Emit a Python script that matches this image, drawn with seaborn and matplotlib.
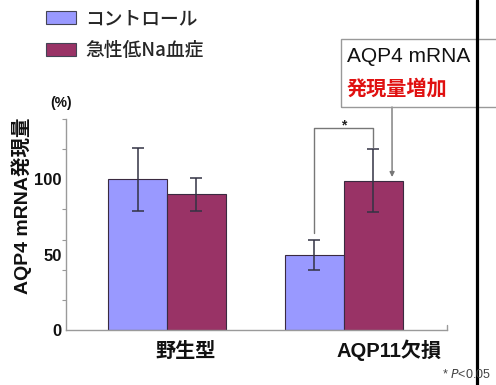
import matplotlib
matplotlib.use("Agg")
import matplotlib.pyplot as plt
from matplotlib.patches import Patch, Rectangle
from matplotlib.lines import Line2D
import seaborn as sns
import pandas as pd

# ---- data ----
genotypes = ["野生型", "AQP11欠損"]
conditions = ["コントロール", "急性低Na血症"]
control_mean = [100, 50]
control_err = [21, 10]
hypona_mean = [90, 99]
hypona_err = [11, 21]
colors = ["#9999FF", "#993366"]
yticklabels = [0, 50, 100]

df = pd.DataFrame({
    "genotype": genotypes * 2,
    "condition": [conditions[0]] * 2 + [conditions[1]] * 2,
    "value": control_mean + hypona_mean,
})
errs = {conditions[0]: control_err, conditions[1]: hypona_err}

sns.set_theme(style="white")
plt.rcParams["font.family"] = ["Liberation Sans", "Noto Sans CJK JP", "DejaVu Sans"]
JP = ["Noto Sans CJK JP", "Liberation Sans", "DejaVu Sans"]
MIX = ["Liberation Sans", "Noto Sans CJK JP", "DejaVu Sans"]

W, H = 496, 385
fig = plt.figure(figsize=(W / 100, H / 100), dpi=100)


def fx(px):
    return px / W


def fy(py):
    return 1 - py / H


ax = fig.add_axes([fx(66), fy(330), fx(447) - fx(66), fy(119) - fy(330)])

sns.barplot(data=df, x="genotype", y="value", hue="condition",
            order=genotypes, hue_order=conditions, palette=colors,
            saturation=1, width=0.668, errorbar=None, edgecolor="#3a2a40",
            linewidth=0.8, legend=False, ax=ax)

# error bars on top of each bar
for cont, cond in zip(ax.containers, conditions):
    for bar, e in zip(cont, errs[cond]):
        xc = bar.get_x() + bar.get_width() / 2
        ax.errorbar(xc, bar.get_height(), yerr=e, fmt="none", ecolor="#333344",
                    elinewidth=1.1, capsize=4, capthick=1.1, zorder=5)

ax.set_ylim(0, 140)
ax.set_xlim(-0.572, 1.586)
ax.set_xlabel("")
ax.set_ylabel("")
ax.set_xticks([])
ax.set_yticks(yticklabels)
ax.set_yticklabels([str(v) for v in yticklabels], fontsize=12, fontweight="bold")
ax.set_yticks(range(20, 141, 20), minor=True)
ax.tick_params(axis="y", which="major", length=0, pad=3, labelcolor="#111111")
ax.tick_params(axis="y", which="minor", length=3, width=0.8, color="#999999",
               direction="out", left=True)
for s in ["top", "right"]:
    ax.spines[s].set_visible(False)
for s in ["left", "bottom"]:
    ax.spines[s].set_color("#9a9a9a")
    ax.spines[s].set_linewidth(1.0)
ax.plot([1.586, 1.586], [0, 3], color="#9a9a9a", lw=1.0, clip_on=False)

# category labels
ax.text(0.105, -0.095, genotypes[0], transform=ax.get_xaxis_transform(),
        ha="center", va="center", fontsize=14.5, family=JP, fontweight="bold",
        color="#111111")
ax.text(1.26, -0.095, genotypes[1], transform=ax.get_xaxis_transform(),
        ha="center", va="center", fontsize=14.5, family=MIX, fontweight="bold",
        color="#111111")

# significance bracket between the AQP11-deficient bars
xl = ax.containers[0][1].get_x() + ax.containers[0][1].get_width() / 2
xr = ax.containers[1][1].get_x() + ax.containers[1][1].get_width() / 2
ax.plot([xl, xl, xr, xr], [64.5, 134, 134, 121.5], color="#777777", lw=1.0,
        clip_on=False, zorder=6)
ax.text((xl + xr) / 2, 135.5, "*", ha="center", va="center", fontsize=10,
        fontweight="bold", color="#222222")

# annotation box with arrow
fig.patches.append(Rectangle((fx(341), fy(107)), fx(520) - fx(341), fy(39) - fy(107),
                             transform=fig.transFigure, fill=False,
                             edgecolor="#999999", lw=1.0))
fig.text(fx(347), fy(57), "AQP4 mRNA", fontsize=15, family=MIX,
         color="#111111", ha="left", va="center")
fig.text(fx(347), fy(88), "発現量増加", fontsize=14.5, family=JP,
         fontweight="bold", color="#E01010", ha="left", va="center")
ax.annotate("", xy=(1.275, 101.5), xytext=(fx(392), fy(107)),
            textcoords="figure fraction",
            arrowprops=dict(arrowstyle="-|>", color="#777777", lw=1.0,
                            mutation_scale=7, shrinkA=0, shrinkB=0),
            annotation_clip=False)

# legend
handles = [Patch(facecolor=c, edgecolor="#444455", lw=0.8) for c in colors]
fig.legend(handles, conditions, loc="upper left",
           bbox_to_anchor=(fx(46), fy(9)), frameon=False,
           prop={"family": JP, "size": 13.5, "weight": "medium"},
           handlelength=1.6, handleheight=0.7, handletextpad=0.5,
           labelspacing=0.7, borderpad=0, borderaxespad=0)

# y axis labels
fig.text(fx(61), fy(103), "(%)", fontsize=10, fontweight="bold",
         ha="center", va="center", color="#111111")
fig.text(fx(22), fy(206), "AQP4 mRNA発現量", rotation=90, fontsize=14,
         family=MIX, fontweight="bold", ha="center", va="center",
         color="#111111")

# footnote
fig.text(fx(442), fy(375), "* $\\it{P}$<0.05", fontsize=9, color="#444444",
         ha="left", va="center")

# black vertical rule at the right side
fig.add_artist(Line2D([fx(476.5), fx(476.5)], [0, 1], color="black", lw=2.3,
                      transform=fig.transFigure))

fig.savefig("out.png", dpi=100)
